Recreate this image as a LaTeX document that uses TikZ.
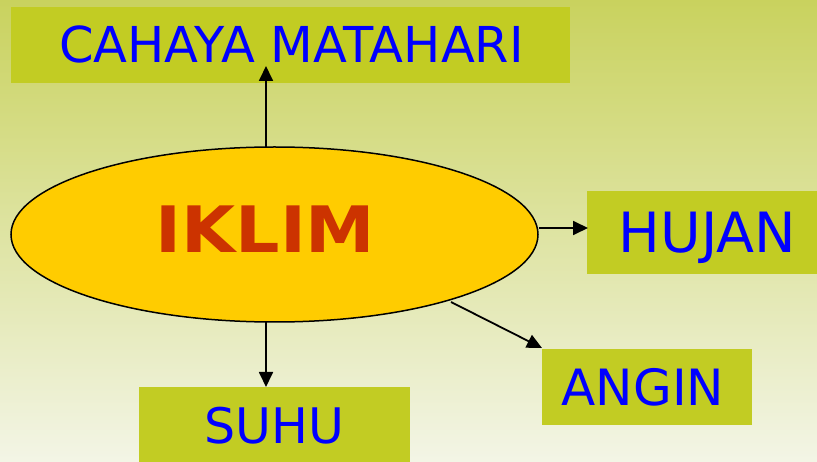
\documentclass[tikz,border=0pt]{standalone}
\usepackage{fontspec}
\setmainfont{DejaVu Sans}
\usetikzlibrary{shapes.geometric,arrows.meta}
\definecolor{bgtop}{HTML}{C9D25E}
\definecolor{bgbot}{HTML}{F3F5E6}
\definecolor{boxc}{HTML}{C2CC23}
\definecolor{ellc}{HTML}{FFCC00}
\definecolor{iklimc}{HTML}{CC3300}
\definecolor{txtc}{HTML}{0000FF}
\tikzset{
  labelbox/.style={fill=boxc, inner sep=0pt, text=txtc, text height=0pt, text depth=0pt,
    font=\fontsize{48pt}{50pt}\selectfont},
  conn/.style={line width=1.8pt, -{Triangle[length=15pt,width=14pt]}},
}
\begin{document}
\begin{tikzpicture}[x=1pt,y=-1pt]
\shade[top color=bgtop, bottom color=bgbot] (0,0) rectangle (817,462);
\useasboundingbox (0,0) rectangle (817,462);
% boxes
\node[labelbox, minimum width=559pt, minimum height=76pt, text height=36pt, font=\fontsize{49.5pt}{51pt}\selectfont] (cahaya) at (290.5,45) {\kern2pt CAHAYA MATAHARI};
\node[labelbox, minimum width=230pt, minimum height=83pt, text height=40pt, font=\fontsize{55.5pt}{57pt}\selectfont] (hujan) at (702,233) {\kern11pt HUJAN};
\node[labelbox, minimum width=210pt, minimum height=76pt, text height=37pt, font=\fontsize{50pt}{52pt}\selectfont] (angin) at (647,387) {ANGIN\kern8pt};
\node[labelbox, minimum width=271pt, minimum height=76pt, text height=36pt, font=\fontsize{49pt}{51pt}\selectfont] (suhu) at (274.5,425) {SUHU};
% ellipse
\node[ellipse, draw=black, line width=1.5pt, fill=ellc, minimum width=527pt, minimum height=175pt, inner sep=0pt] (iklim) at (274.5,234.5) {};
\node[text=iklimc, font=\bfseries\fontsize{64pt}{66pt}\selectfont, inner sep=0pt, text height=47pt, text depth=0pt] (iklimtext) at (265.5,229) {\scalebox{1.09}[1]{IKLIM}};
% arrow end points
\coordinate (upS) at (266,147.5);
\coordinate (upE) at (266,66);
\coordinate (rtS) at (538.5,228);
\coordinate (rtE) at (588,228);
\coordinate (dnS) at (266,322);
\coordinate (dnE) at (266,387);
\coordinate (dgS) at (451,302);
\coordinate (dgE) at (542,348);
\draw[conn] (upS) -- (upE);
\draw[conn] (rtS) -- (rtE);
\draw[conn] (dnS) -- (dnE);
\draw[conn] (dgS) -- (dgE);
\end{tikzpicture}
\end{document}
